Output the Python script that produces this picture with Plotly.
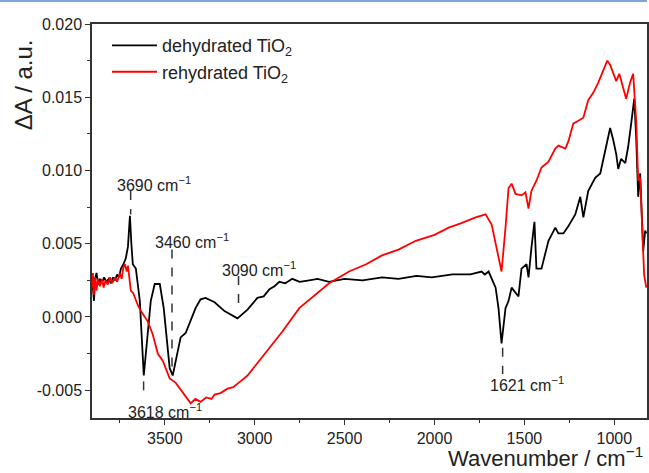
import plotly.graph_objects as go

# ---------------- data ----------------
dehyd_wn = [3905, 3900, 3894, 3888, 3880, 3870, 3861, 3850, 3838, 3825, 3812, 3800, 3788, 3778,
            3765, 3755, 3744, 3730, 3717, 3705, 3694, 3686, 3678, 3661, 3639, 3617,
            3595, 3578, 3556, 3528, 3506, 3489, 3473, 3456, 3439, 3412, 3384, 3356, 3329, 3301,
            3273, 3223, 3168, 3096, 3040, 2985, 2950, 2918, 2890, 2863, 2830, 2791, 2750, 2697,
            2650, 2586, 2500, 2400, 2292, 2200, 2100, 2015, 1900, 1800, 1738, 1720,
            1699, 1660, 1644, 1627, 1605, 1588, 1571, 1533, 1516, 1488, 1477, 1461, 1444, 1433,
            1405, 1366, 1328, 1311, 1283, 1255, 1217, 1189, 1172, 1145, 1106, 1078, 1061, 1039,
            1023, 1006, 989, 978, 962, 939, 923, 906, 889, 878, 867, 856, 839, 828, 822]
dehyd_abs = [0.0028, 0.0022, 0.0011, 0.0026, 0.0030, 0.0022, 0.0026, 0.0023, 0.0027, 0.0024,
             0.0026, 0.0023, 0.0027, 0.0025, 0.0029, 0.0027, 0.0033, 0.0036, 0.0040, 0.0048,
             0.0069, 0.0050, 0.0036, 0.0033, 0.0011, -0.0040,
             -0.0012, 0.0011, 0.00225, 0.00225, 0.0006, -0.0016, -0.0035, -0.0040, -0.0030,
             -0.0014, -0.0011, -0.0003, 0.0006, 0.0012, 0.0013, 0.0010, 0.0004, -0.0001, 0.0005,
             0.0013, 0.0014, 0.0019, 0.0021, 0.0024, 0.0023, 0.0026, 0.0024, 0.0025,
             0.0026, 0.0024, 0.0026, 0.0025, 0.0027, 0.0026, 0.0028, 0.0027, 0.0029, 0.0029,
             0.0031, 0.0029,
             0.0031, 0.0020, 0.0006, -0.0018, 0.0006, 0.0011, 0.0020, 0.0014, 0.0033, 0.0036,
             0.0027, 0.0047, 0.0065, 0.0033, 0.0033, 0.0052, 0.0061, 0.0057, 0.0057, 0.0062,
             0.0070, 0.0082, 0.0068, 0.0086, 0.0095, 0.0098, 0.0108, 0.0121,
             0.0129, 0.0121, 0.0111, 0.0101, 0.0108, 0.0105, 0.0116, 0.0132, 0.0149, 0.0122,
             0.0082, 0.0098, 0.0045, 0.0059, 0.0057]

rehyd_wn = [3905, 3900, 3895, 3888, 3880, 3872, 3861, 3850, 3840, 3830, 3818, 3805, 3792, 3778,
            3765, 3750, 3740, 3730, 3722, 3712, 3705, 3695, 3689, 3675, 3661, 3650, 3633, 3595,
            3567, 3539, 3511, 3473, 3439, 3390, 3356, 3330, 3301, 3270, 3240, 3223, 3190, 3151,
            3120, 3079, 3040, 3001, 2918, 2846, 2752, 2658, 2586, 2475, 2380, 2292, 2200, 2104,
            2000, 1921, 1850, 1771, 1716, 1682, 1655, 1627, 1605, 1588, 1571, 1549, 1516, 1494,
            1477, 1461, 1433, 1405, 1366, 1328, 1311, 1272, 1255, 1228, 1200, 1172, 1145, 1117,
            1089, 1061, 1039, 1023, 1006, 989, 972, 950, 934, 912, 895, 878, 867, 856, 845, 834,
            822]
rehyd_abs = [0.0020, 0.0030, 0.0015, 0.0027, 0.0018, 0.0026, 0.0021, 0.0026, 0.0020, 0.0025,
             0.0022, 0.0027, 0.0023, 0.0027, 0.0024, 0.0030, 0.0026, 0.0034, 0.0036, 0.0031,
             0.0035, 0.0025, 0.0018, 0.0016, 0.0011, 0.0008, 0.0004, -0.0003,
             -0.0012, -0.0025, -0.0030, -0.0042, -0.0045, -0.0053, -0.0059, -0.0056, -0.0058,
             -0.0055, -0.0056, -0.0053, -0.0052, -0.0049, -0.0048, -0.0044, -0.0040, -0.0034,
             -0.0021, -0.0010, 0.0006, 0.0016, 0.0023, 0.0031, 0.0036, 0.0042, 0.0046, 0.0052,
             0.0056, 0.0061, 0.0064, 0.0068, 0.0070, 0.0063, 0.0047, 0.0031, 0.0061, 0.0088,
             0.0091, 0.0084, 0.0083, 0.0085, 0.0074, 0.0086, 0.0093, 0.0102, 0.0106, 0.0115,
             0.0117, 0.0115, 0.0120, 0.0132, 0.0134, 0.0136, 0.0148, 0.0153, 0.0160, 0.0168,
             0.0175, 0.0172, 0.0166, 0.0161, 0.0166, 0.0156, 0.0149, 0.0160, 0.0166, 0.0134,
             0.0093, 0.0095, 0.0065, 0.0029, 0.0020]

series_names = ["dehydrated TiO<sub>2</sub>", "rehydrated TiO<sub>2</sub>"]

# band annotations: position, label, dashed marker extent (y from, y to), label position
band_pos = [3690, 3618, 3460, 3090, 1621]
band_labels = ["3690 cm<sup>−1</sup>", "3618 cm<sup>−1</sup>", "3460 cm<sup>−1</sup>",
               "3090 cm<sup>−1</sup>", "1621 cm<sup>−1</sup>"]
band_line_y0 = [0.0086, -0.0044, 0.0046, 0.0028, -0.0021]
band_line_y1 = [0.0070, -0.0055, -0.0039, 0.0006, -0.0039]
band_label_x = [3561, 3500, 3351, 2974, 1488]
band_label_y = [0.0091, -0.0064, 0.0052, 0.0033, -0.0046]

x_ticks = [3500, 3000, 2500, 2000, 1500, 1000]
x_minor = [3750, 3250, 2750, 2250, 1750, 1250, 750]
y_ticks = [-0.005, 0.0, 0.005, 0.010, 0.015, 0.020]
y_ticklabels = ["-0.005", "0.000", "0.005", "0.010", "0.015", "0.020"]
y_minor = [-0.0025, 0.0025, 0.0075, 0.0125, 0.0175]

x_title = "Wavenumber / cm<sup>−1</sup>"
y_title = "ΔA / a.u."

FONT = "Liberation Sans, Arial, sans-serif"
TXT = "#222222"

fig = go.Figure()
fig.add_trace(go.Scatter(x=dehyd_wn, y=dehyd_abs, mode="lines", name=series_names[0],
                         line=dict(color="#000000", width=1.8)))
fig.add_trace(go.Scatter(x=rehyd_wn, y=rehyd_abs, mode="lines", name=series_names[1],
                         line=dict(color="#ff0000", width=1.8)))

for xp, lab, y0, y1, lx, ly in zip(band_pos, band_labels, band_line_y0, band_line_y1,
                                    band_label_x, band_label_y):
    fig.add_shape(type="line", xref="x", yref="y", x0=xp, x1=xp, y0=y0, y1=y1,
                  line=dict(color="#333333", width=1.5, dash="dash"))
    fig.add_annotation(x=lx, y=ly, xref="x", yref="y", text=lab, showarrow=False,
                       font=dict(family=FONT, size=16, color=TXT))

# axis titles (placed like in the cropped original figure)
fig.add_annotation(xref="paper", yref="paper", x=1.0, y=-0.136, xanchor="right", yanchor="bottom",
                   xshift=-3, text=x_title, showarrow=False, borderpad=0,
                   font=dict(family=FONT, size=22, color=TXT))
fig.add_annotation(xref="paper", yref="paper", x=-0.124, y=0.845, xanchor="center",
                   yanchor="middle", textangle=-90, text=y_title, showarrow=False,
                   font=dict(family=FONT, size=24, color=TXT))

# thin blue rule at the very top of the picture
fig.add_shape(type="line", xref="paper", yref="paper", x0=-0.2, x1=1.0, y0=1.0584, y1=1.0584,
              line=dict(color="#7ea6d8", width=2))

fig.update_layout(
    width=649, height=473,
    margin=dict(l=92, r=0, t=24, b=55),
    paper_bgcolor="white", plot_bgcolor="white",
    font=dict(family=FONT, size=16, color=TXT),
    showlegend=True,
    legend=dict(x=0.027, y=0.992, xanchor="left", yanchor="top", itemwidth=45,
                bgcolor="rgba(0,0,0,0)", font=dict(family=FONT, size=18, color=TXT),
                tracegroupgap=0),
    xaxis=dict(range=[3905, 818], tickmode="array", tickvals=x_ticks,
               ticks="outside", ticklen=5, tickwidth=1.3, tickcolor="#333333",
               showline=True, linecolor="#333333", linewidth=1.5, mirror=True,
               showgrid=False, zeroline=False,
               minor=dict(tickvals=x_minor, ticks="outside", ticklen=3, tickcolor="#333333",
                          showgrid=False),
               tickfont=dict(family=FONT, size=16, color=TXT)),
    yaxis=dict(range=[-0.0069, 0.020], tickmode="array", tickvals=y_ticks, ticktext=y_ticklabels,
               ticks="outside", ticklen=5, tickwidth=1.3, tickcolor="#333333",
               showline=True, linecolor="#333333", linewidth=1.5, mirror=True,
               showgrid=False, zeroline=False,
               minor=dict(tickvals=y_minor, ticks="outside", ticklen=3, tickcolor="#333333",
                          showgrid=False),
               tickfont=dict(family=FONT, size=16, color=TXT)),
)

fig.write_html("out.html")
